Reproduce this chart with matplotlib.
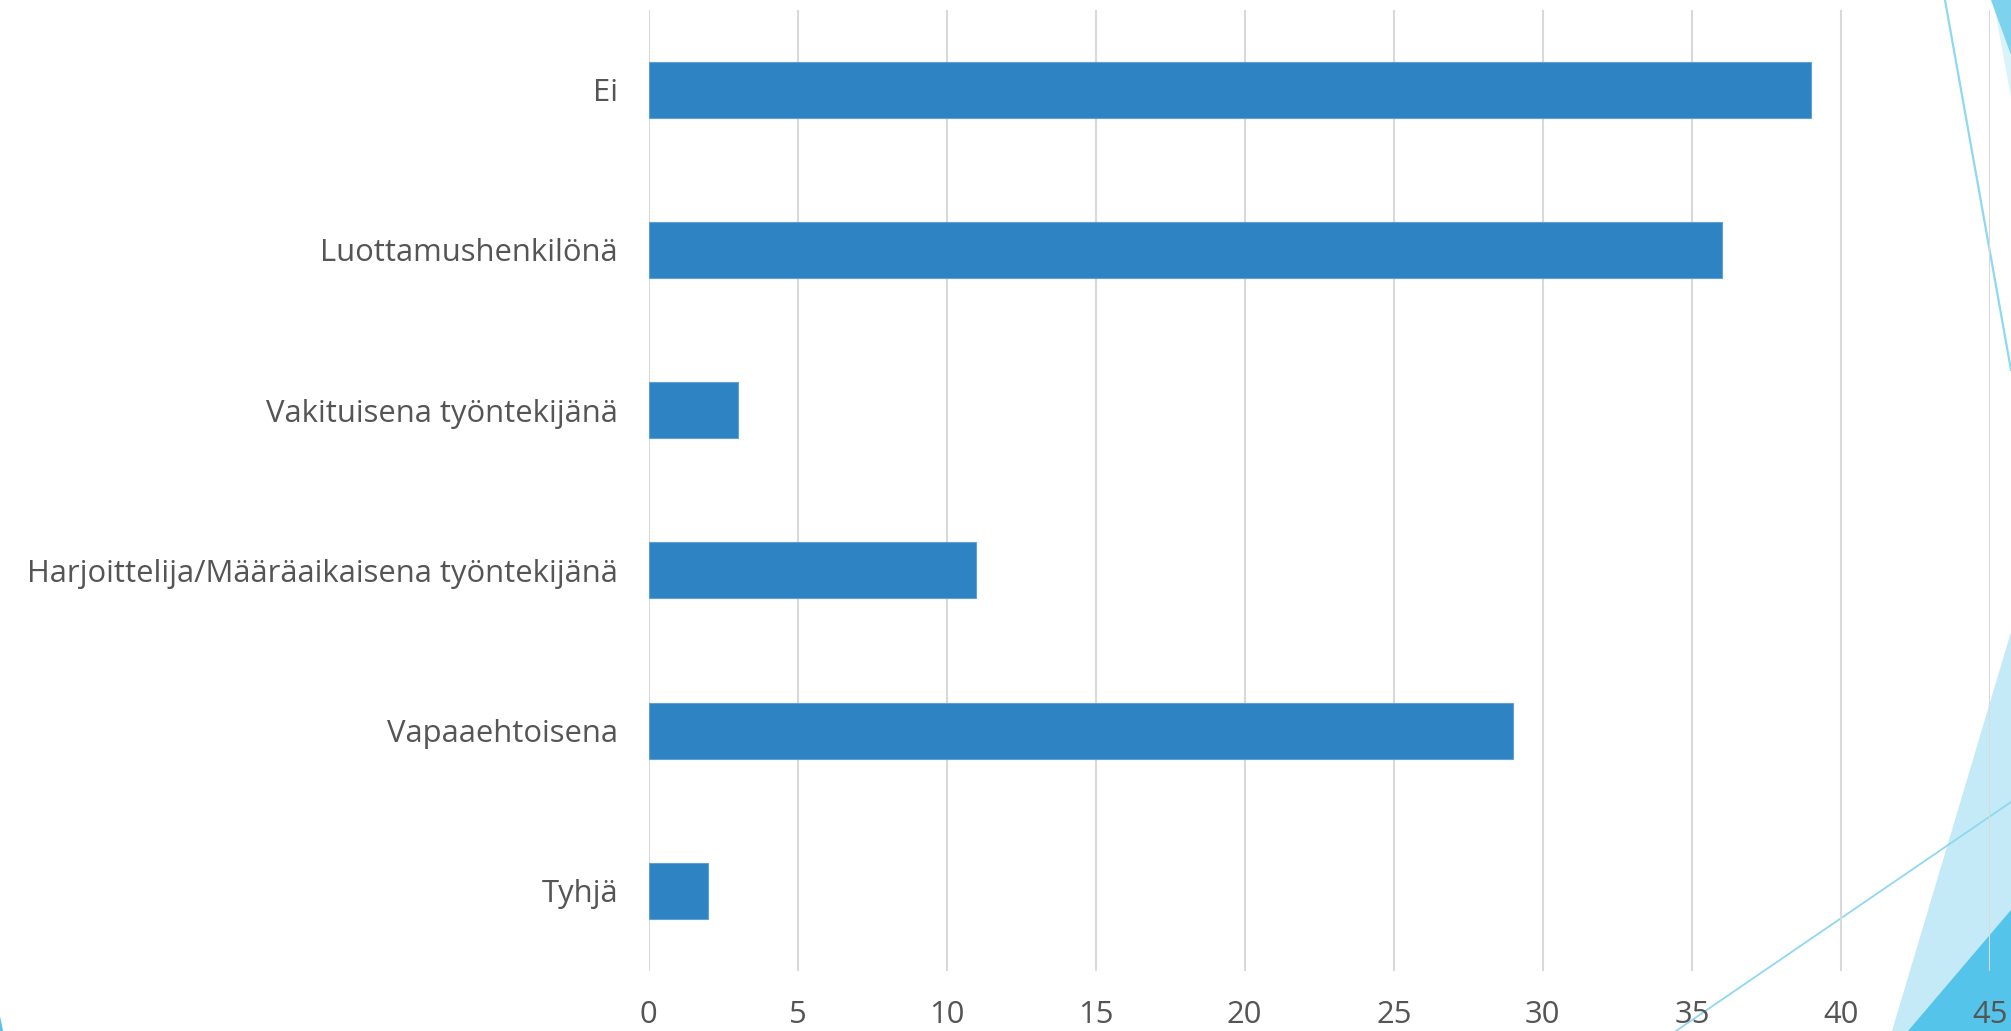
import matplotlib
matplotlib.use("Agg")
import matplotlib.pyplot as plt
from matplotlib.patches import Polygon
from matplotlib.lines import Line2D

categories = ["Ei", "Luottamushenkilönä", "Vakituisena työntekijänä",
              "Harjoittelija/Määräaikaisena työntekijänä", "Vapaaehtoisena", "Tyhjä"]
values = [39, 36, 3, 11, 29, 2]
xticks = [0, 5, 10, 15, 20, 25, 30, 35, 40, 45]

W, H = 2011, 1031
plt.rcParams['font.family'] = ['Open Sans', 'DejaVu Sans']
fig = plt.figure(figsize=(W / 100, H / 100), dpi=100)
fig.patch.set_facecolor('white')

def fp(pts):
    return [(x / W, 1 - y / H) for x, y in pts]

# decorative slide background
deco = [
    (fp([(1892, 1031), (2011, 632), (2011, 1031)]), '#C5EAF7'),
    (fp([(1908, 1031), (2011, 910), (2011, 1031)]), '#55C4EA'),
    (fp([(1993, 0), (2011, 0), (2011, 97)]), '#DAF2FA'),
    (fp([(1991, 0), (2011, 0), (2011, 55)]), '#7DD3EE'),
    (fp([(0, 1016), (3, 1031), (0, 1031)]), '#55C4EA'),
]
for pts, c in deco:
    fig.add_artist(Polygon(pts, closed=True, facecolor=c, edgecolor='none',
                           transform=fig.transFigure, zorder=-2))
for (x0, y0), (x1, y1), lw in [((1945, 0), (2011, 370), 1.6), ((1676, 1031), (2011, 802), 1.3)]:
    fig.add_artist(Line2D([x0 / W, x1 / W], [1 - y0 / H, 1 - y1 / H], color='#8ED8F2',
                          lw=lw, transform=fig.transFigure, zorder=-1))

left, right = 648.5 / W, 1990 / W
top, bottom = 1 - 9.5 / H, 1 - 971 / H
ax = fig.add_axes([left, bottom, right - left, top - bottom])
ax.patch.set_alpha(0)

ypos = list(range(len(categories)))
ax.barh(ypos, values, height=0.35, color='#2E83C3', edgecolor='#5FA0D8', linewidth=0.8, zorder=3)
ax.set_yticks(ypos)
ax.set_yticklabels(categories)
ax.set_ylim(len(categories) - 0.5, -0.5)
ax.set_xlim(0, 45)
ax.set_xticks(xticks)
ax.set_xticklabels([str(t) for t in xticks])
ax.grid(axis='x', color='#D9D9D9', linewidth=1.5, zorder=0)
ax.set_axisbelow(True)
for s in ax.spines.values():
    s.set_visible(False)
ax.tick_params(axis='both', length=0, labelsize=22.3, labelcolor='#555555')
ax.tick_params(axis='y', pad=22)
ax.tick_params(axis='x', pad=21)

fig.savefig("out.png", dpi=100, facecolor='white')
